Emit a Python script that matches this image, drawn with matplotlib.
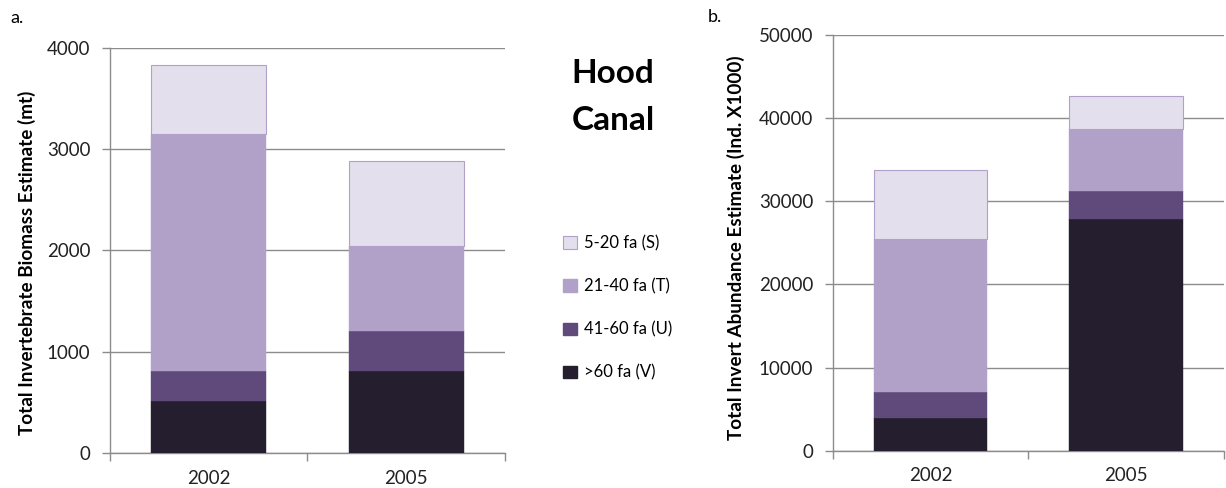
import matplotlib
matplotlib.use("Agg")
import matplotlib.pyplot as plt
from matplotlib.patches import Patch
import numpy as np

plt.rcParams['font.family'] = ['Lato', 'DejaVu Sans']

years = ["2002", "2005"]
series = ["5-20 fa (S)", "21-40 fa (T)", "41-60 fa (U)", ">60 fa (V)"]
# Biomass (mt)
bio_V = [510, 810]
bio_U = [300, 390]
bio_T = [2340, 845]
bio_S = [680, 840]
# Abundance (Ind. X1000)
abu_V = [3900, 27900]
abu_U = [3200, 3400]
abu_T = [18400, 7400]
abu_S = [8300, 4000]

colors = {"S": "#E4DFEC", "T": "#B1A0C7", "U": "#604A7B", "V": "#241E2E"}
edge_S = "#B1A0C7"
grid_c = "#8C8C8C"

fig = plt.figure(figsize=(12.26, 4.88), dpi=100)

def draw(ax, V, U, T, S, ymax, step, ylabel, lsize, lx, ly):
    x = np.arange(len(years))
    w = 0.58
    b = np.zeros(len(years))
    for vals, key in [(V, "V"), (U, "U"), (T, "T"), (S, "S")]:
        ec = edge_S if key == "S" else colors[key]
        ax.bar(x, vals, w, bottom=b, color=colors[key], edgecolor=ec,
               linewidth=0.8 if key == "S" else 0.3, zorder=3)
        b = b + np.array(vals)
    ax.set_xlim(-0.5, 1.5)
    ax.set_ylim(0, ymax)
    ax.set_yticks(np.arange(0, ymax + 1, step))
    ax.yaxis.grid(True, color=grid_c, linewidth=1.0, zorder=0)
    ax.set_axisbelow(True)
    for s in ["top", "right"]:
        ax.spines[s].set_visible(False)
    for s in ["left", "bottom"]:
        ax.spines[s].set_color(grid_c)
        ax.spines[s].set_linewidth(1.0)
    ax.set_xticks(x)
    ax.set_xticklabels(years)
    ax.set_xticks([-0.5, 0.5, 1.5], minor=True)
    ax.tick_params(axis='x', which='major', length=0, pad=12, labelsize=13.5, colors='#222222')
    ax.tick_params(axis='x', which='minor', length=6, color=grid_c, width=1.0)
    ax.tick_params(axis='y', length=6, color=grid_c, width=1.0, labelsize=13.5, labelcolor='#222222', pad=8)
    ax.set_ylabel(ylabel, fontsize=lsize, fontweight='bold')
    ax.yaxis.set_label_coords(lx, ly)

ax1 = fig.add_axes([0.0897, 0.0717, 0.3222, 0.830])
draw(ax1, bio_V, bio_U, bio_T, bio_S, 4000, 1000,
     "Total Invertebrate Biomass Estimate (mt)", 13.6, -0.186, 0.469)
ax2 = fig.add_axes([0.6792, 0.0764, 0.3190, 0.8518])
draw(ax2, abu_V, abu_U, abu_T, abu_S, 50000, 10000,
     "Total Invert Abundance Estimate (Ind. X1000)", 13.6, -0.223, 0.489)

fig.text(10 / 1226, 1 - 18 / 488, "a.", fontsize=13, va='center', ha='left')
fig.text(708 / 1226, 1 - 17 / 488, "b.", fontsize=13, va='center', ha='left')
fig.text(613 / 1226, 1 - 97 / 488, "Hood\nCanal", fontsize=24, fontweight='bold',
         ha='center', va='center', linespacing=1.72)

handles = [Patch(facecolor=colors["S"], edgecolor=edge_S, linewidth=0.8),
           Patch(facecolor=colors["T"], edgecolor=colors["T"]),
           Patch(facecolor=colors["U"], edgecolor=colors["U"]),
           Patch(facecolor=colors["V"], edgecolor=colors["V"])]
fig.legend(handles, series, loc='upper left', bbox_to_anchor=(555 / 1226, 1 - 227 / 488),
           frameon=False, fontsize=12, handlelength=0.8, handleheight=0.8,
           handletextpad=0.45, labelspacing=1.62, borderpad=0)

fig.savefig("out.png", dpi=100)
